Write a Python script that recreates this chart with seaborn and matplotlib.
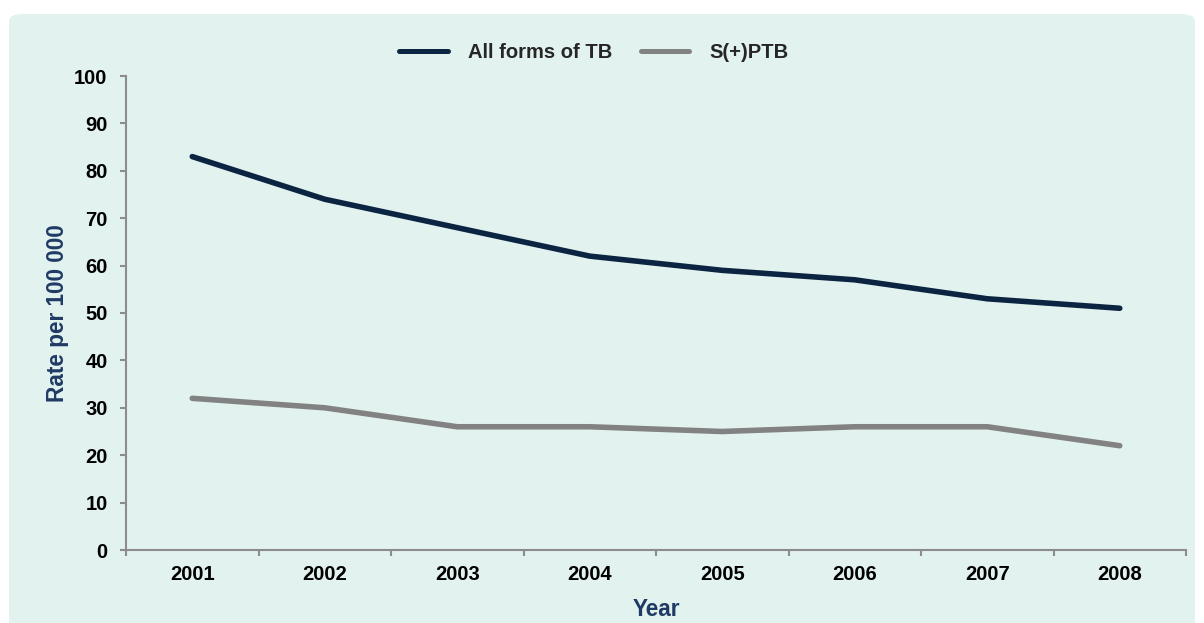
import matplotlib
matplotlib.use("Agg")
import matplotlib.pyplot as plt
from matplotlib.patches import FancyBboxPatch
import pandas as pd
import seaborn as sns

# Data
years = ["2001", "2002", "2003", "2004", "2005", "2006", "2007", "2008"]
all_forms_tb = [83, 74, 68, 62, 59, 57, 53, 51]
smear_pos_ptb = [32, 30, 26, 26, 25, 26, 26, 22]
series_names = ["All forms of TB", "S(+)PTB"]

NAVY = "#0B2441"
GREY = "#828282"
PANEL = "#E2F2EF"
AXIS_GREY = "#8C8C8C"
LABEL_BLUE = "#1F3A64"
FS = 14.5
LABEL_FS = 16.3

df = pd.DataFrame({
    "Year": years * 2,
    "Rate": all_forms_tb + smear_pos_ptb,
    "Series": [series_names[0]] * len(years) + [series_names[1]] * len(years),
})

sns.set_theme(style="white")
plt.rcParams["font.family"] = ["Liberation Sans", "DejaVu Sans"]
plt.rcParams["font.weight"] = "bold"

fig = plt.figure(figsize=(12.04, 6.23), dpi=100)
fig.patch.set_facecolor("white")

# rounded background panel (behind the axes)
panel = FancyBboxPatch((9 / 1204, -0.05), 1186 / 1204, 1 - 14 / 623 + 0.05,
                       boxstyle="round,pad=0,rounding_size=0.012",
                       transform=fig.transFigure, facecolor=PANEL,
                       edgecolor="none", zorder=-10)
fig.patches.append(panel)

# axes box in pixels: x 126..1186, y 76..550
ax = fig.add_axes([126 / 1204, 1 - 550 / 623, 1060 / 1204, 474 / 623])
ax.set_facecolor("none")

sns.lineplot(data=df, x="Year", y="Rate", hue="Series",
             palette=[NAVY, GREY], linewidth=4, ax=ax, sort=False,
             solid_capstyle="round", solid_joinstyle="round")

ax.set_xlim(-0.5, len(years) - 0.5)
ax.set_ylim(0, 100)
ax.set_yticks(range(0, 101, 10))
ax.set_xticks(range(len(years)))
ax.set_xticklabels(years)
ax.set_xticks([i - 0.5 for i in range(len(years) + 1)], minor=True)

for side in ["top", "right"]:
    ax.spines[side].set_visible(False)
for side in ["left", "bottom"]:
    ax.spines[side].set_color(AXIS_GREY)
    ax.spines[side].set_linewidth(1.5)

ax.tick_params(axis="x", which="major", length=0, pad=11, labelsize=FS, labelcolor="black")
ax.tick_params(axis="x", which="minor", length=4.3, width=1.5, color=AXIS_GREY, direction="out")
ax.tick_params(axis="y", which="major", length=4.3, width=1.5, color=AXIS_GREY,
               direction="out", pad=9, labelsize=FS, labelcolor="black")
ax.tick_params(left=True, bottom=False)
ax.tick_params(axis="x", which="minor", bottom=True)
for lbl in ax.get_xticklabels() + ax.get_yticklabels():
    lbl.set_fontweight("bold")

ax.set_xlabel("Year", fontsize=LABEL_FS, fontweight="bold", color=LABEL_BLUE, labelpad=10)
ax.set_ylabel("Rate per 100 000", fontsize=LABEL_FS, fontweight="bold", color=LABEL_BLUE, labelpad=4)

leg = ax.legend(loc="center", bbox_to_anchor=(0.4415, 1 + 23 / 474), ncol=2, frameon=False,
                fontsize=FS, handlelength=2.4, columnspacing=1.45, handletextpad=1.0,
                borderpad=0, borderaxespad=0)
for txt in leg.get_texts():
    txt.set_fontweight("bold")
for line in leg.get_lines():
    line.set_linewidth(3.6)
    line.set_solid_capstyle("round")

fig.savefig("out.png", dpi=100, facecolor=fig.get_facecolor())
